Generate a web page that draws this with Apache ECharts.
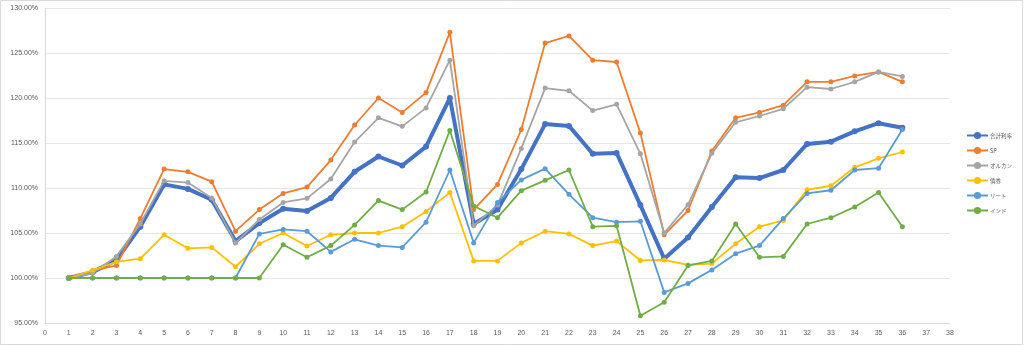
<!DOCTYPE html>
<html>
<head>
<meta charset="utf-8">
<script src="https://cdn.jsdelivr.net/npm/echarts@6/dist/echarts.min.js"></script>
<style>
  html, body { margin: 0; padding: 0; background: #fff; }
  #chart { width: 1024px; height: 346px; }
</style>
</head>
<body>
<div id="chart"></div>
<script>
// Month index
const months = [1,2,3,4,5,6,7,8,9,10,11,12,13,14,15,16,17,18,19,20,21,22,23,24,25,26,27,28,29,30,31,32,33,34,35,36];

// Cumulative ratio (%) per series
const total  = [100,100.65,102.0,105.7,110.4,109.9,108.7,104.1,106.1,107.7,107.45,108.9,111.8,113.5,112.5,114.6,120.0,106.0,107.6,112.1,117.1,116.9,113.8,113.9,108.1,102.15,104.5,107.9,111.2,111.1,112.0,114.9,115.15,116.3,117.2,116.7];
const sp     = [100,100.8,101.4,106.6,112.1,111.8,110.7,105.2,107.6,109.4,110.1,113.1,117.0,120.0,118.4,120.6,127.3,107.6,110.4,116.5,126.1,126.9,124.2,124.0,116.1,104.8,107.5,114.1,117.8,118.4,119.2,121.8,121.8,122.45,122.9,121.8];
const allCountry = [100,100.55,102.4,106.0,110.8,110.6,108.9,103.9,106.5,108.4,108.85,111.0,115.1,117.8,116.85,118.9,124.2,105.8,108.1,114.4,121.1,120.8,118.6,119.3,113.8,105.0,108.15,113.85,117.3,118.0,118.8,121.2,121.0,121.8,122.9,122.4];
const bond   = [100,100.85,101.8,102.15,104.8,103.3,103.4,101.25,103.8,105.0,103.55,104.8,105.0,105.0,105.7,107.4,109.5,101.9,101.9,103.9,105.2,104.9,103.6,104.1,101.95,102.0,101.45,101.6,103.8,105.7,106.4,109.8,110.25,112.3,113.3,114.0];
const reit   = [100,100,100,100,100,100,100,100,104.9,105.4,105.2,102.9,104.3,103.6,103.4,106.2,112.0,103.9,108.4,110.9,112.15,109.3,106.7,106.2,106.3,98.4,99.4,100.9,102.7,103.6,106.6,109.4,109.75,112.0,112.2,116.5];
const india  = [100,100,100,100,100,100,100,100,100,103.7,102.3,103.6,105.9,108.6,107.6,109.55,116.4,108.0,106.7,109.7,110.85,112.0,105.7,105.8,95.8,97.3,101.4,101.9,106.0,102.3,102.4,106.0,106.7,107.9,109.5,105.7];

const seriesNames = ['合計利率', 'SP', 'オルカン', '債券', 'リート', 'インド'];
const seriesValues = [total, sp, allCountry, bond, reit, india];
const seriesColors = ['#4472C4', '#ED7D31', '#A5A5A5', '#FFC000', '#5B9BD5', '#70AD47'];

// Axis ranges / tick steps
const xMin = 0, xMax = 38, xStep = 1;
const yMin = 95, yMax = 130, yStep = 5;

const chart = echarts.init(document.getElementById('chart'), null, { renderer: 'canvas' });

const series = seriesNames.map((name, i) => ({
  name: name,
  type: 'line',
  data: months.map((m, j) => [m, seriesValues[i][j]]),
  symbol: 'circle',
  symbolSize: i === 0 ? 6 : 5,
  showSymbol: true,
  lineStyle: { width: i === 0 ? 4 : 1.8, color: seriesColors[i] },
  itemStyle: { color: seriesColors[i] },
  z: 2 + i,
  animation: false
}));

chart.setOption({
  animation: false,
  backgroundColor: '#ffffff',
  textStyle: { fontFamily: '"Liberation Sans", "Noto Sans CJK JP", sans-serif' },
  graphic: [{
    type: 'rect',
    shape: { x: 0.5, y: 0.5, width: 1022, height: 344 },
    style: { fill: 'none', stroke: '#D9D9D9', lineWidth: 1 },
    silent: true
  }],
  grid: { left: 45, right: 74, top: 8, bottom: 23, containLabel: false },
  legend: {
    orient: 'vertical',
    left: 961,
    top: 126,
    itemWidth: 21,
    itemHeight: 9,
    itemGap: 6,
    data: seriesNames,
    textStyle: {
      color: '#595959',
      fontSize: 5.5,
      lineHeight: 9,
      padding: [0, 0, 0, -3],
      fontFamily: '"Noto Sans CJK JP", "Liberation Sans", sans-serif'
    }
  },
  xAxis: {
    type: 'value',
    min: xMin,
    max: xMax,
    interval: xStep,
    axisLine: { show: true, lineStyle: { color: '#D9D9D9', width: 1 } },
    axisTick: { show: false },
    splitLine: { show: false },
    axisLabel: { color: '#595959', fontSize: 7, margin: 7 }
  },
  yAxis: {
    type: 'value',
    min: yMin,
    max: yMax,
    interval: yStep,
    axisLine: { show: true, lineStyle: { color: '#D9D9D9', width: 1 } },
    axisTick: { show: false },
    splitLine: { show: true, lineStyle: { color: '#E6E6E6', width: 1 } },
    axisLabel: {
      color: '#595959',
      fontSize: 7,
      margin: 7,
      formatter: v => v.toFixed(2) + '%'
    }
  },
  series: series
});
</script>
</body>
</html>
